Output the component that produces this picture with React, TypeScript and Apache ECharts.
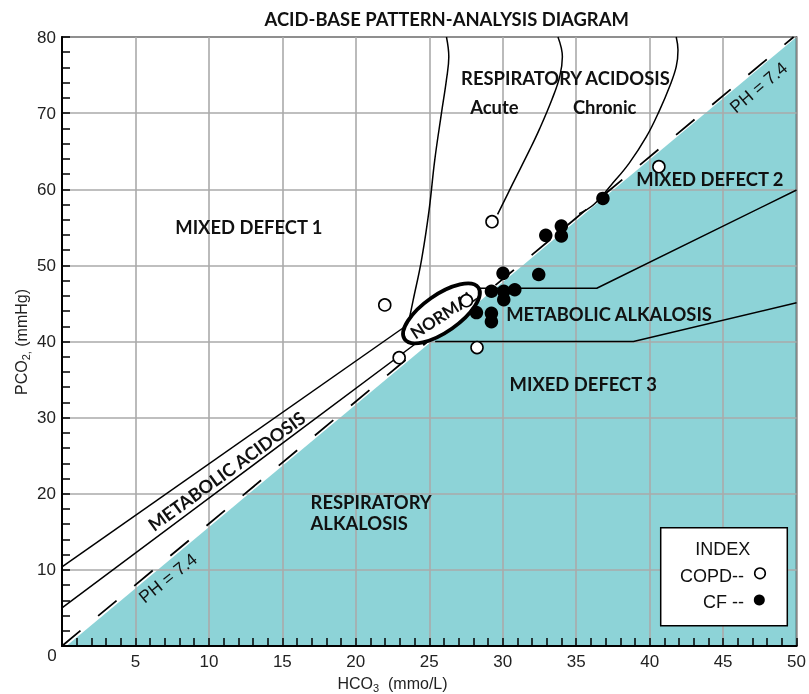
import React, { useEffect, useRef } from "react";
import * as echarts from "echarts";

// ---- axis ranges / ticks ----
const X_MIN = 0;
const X_MAX = 50;
const X_STEP = 5;
const Y_MIN = 0;
const Y_MAX = 80;
const Y_STEP = 10;

// ---- data points (HCO3, PCO2) ----
const copdPoints = [
  [29.27, 55.74],
  [40.63, 62.96],
  [21.97, 44.8],
  [22.95, 37.87],
  [28.25, 39.2],
  [27.53, 45.36],
];
const cfPoints = [
  [36.82, 58.8],
  [33.99, 55.17],
  [32.93, 53.95],
  [33.99, 53.86],
  [30.02, 48.96],
  [32.45, 48.8],
  [29.23, 46.6],
  [30.07, 46.6],
  [30.82, 46.8],
  [30.07, 45.5],
  [28.21, 43.8],
  [29.23, 43.7],
  [29.23, 42.6],
];

// ---- boundary lines ----
const phLine = [
  [0, 0],
  [49.8, 80],
];
const alkalosisEdge = [
  [0.3, 0],
  [50, 80],
];
const metAcidUpper = [
  [0, 10.4],
  [23.6, 42.3],
];
const metAcidLower = [
  [0, 5.0],
  [24.2, 39.9],
];
const metAlkUpper = [
  [28.0, 47.0],
  [36.4, 47.0],
  [50, 59.9],
];
const metAlkLower = [
  [25.4, 40.0],
  [38.9, 40.0],
  [50, 45.1],
];
const acuteLeft = [
  [26.17, 80],
  [26.33, 77.4],
  [26.17, 74.4],
  [25.83, 70.0],
  [25.37, 63.8],
  [24.99, 57.3],
  [24.47, 50.7],
  [23.9, 45.4],
  [23.6, 42.6],
];
const acuteRight = [
  [33.76, 80],
  [34.06, 77.4],
  [33.88, 74.8],
  [33.35, 71.8],
  [32.5, 67.9],
  [31.84, 65.2],
  [30.7, 60.8],
  [29.65, 56.7],
];
const chronic = [
  [41.81, 80],
  [41.93, 78.3],
  [41.81, 76.1],
  [41.36, 73.5],
  [40.68, 70.4],
  [39.78, 66.9],
  [38.6, 63.4],
  [37.4, 60.6],
  [36.2, 58.0],
  [35.2, 56.8],
];
const normalCenter = [25.83, 43.7];

// ---- annotation texts ----
const labelTexts = [
  "RESPIRATORY ACIDOSIS",
  "Acute",
  "Chronic",
  "MIXED DEFECT 2",
  "MIXED DEFECT 1",
  "METABOLIC ALKALOSIS",
  "MIXED DEFECT 3",
  "RESPIRATORY",
  "ALKALOSIS",
  "METABOLIC ACIDOSIS",
  "PH = 7.4",
  "PH = 7.4",
  "NORMAL",
];
const labelAnchors = [
  [34.27, 74.57],
  [29.43, 70.85],
  [36.94, 70.85],
  [44.1, 61.3],
  [12.72, 55.04],
  [37.24, 43.6],
  [35.48, 34.4],
  [16.92, 18.96],
  [16.92, 16.12],
  [11.2, 23.0],
  [7.21, 8.93],
  [47.41, 73.37],
  [25.94, 43.61],
];
const labelStyles = [
  { size: 18.4, bold: true, rot: 0, align: "center" },
  { size: 18.4, bold: true, rot: 0, align: "center" },
  { size: 18.4, bold: true, rot: 0, align: "center" },
  { size: 18.4, bold: true, rot: 0, align: "center" },
  { size: 18.4, bold: true, rot: 0, align: "center" },
  { size: 18.4, bold: true, rot: 0, align: "center" },
  { size: 18.4, bold: true, rot: 0, align: "center" },
  { size: 18.4, bold: true, rot: 0, align: "left" },
  { size: 18.4, bold: true, rot: 0, align: "left" },
  { size: 18, bold: true, rot: 36, align: "center" },
  { size: 17.5, bold: false, rot: 38.5, align: "center", sans: true },
  { size: 17.5, bold: false, rot: 40, align: "center", sans: true },
  { size: 17, bold: true, rot: 33, align: "center" },
];

const TEAL = "#8dd3d7";
const GRID_GRAY = "#aaaaaa";
const BOLD_FONT = "Lato";
const SANS_FONT = "Liberation Sans";

export default function App() {
  const ref = useRef<HTMLDivElement>(null);

  useEffect(() => {
    const chart = echarts.init(ref.current!, null, { renderer: "svg" });

    const lineSeries = (data: number[][], smooth: number | boolean = false, extra: any = {}) => ({
      type: "line",
      data,
      showSymbol: false,
      symbol: "none",
      silent: true,
      smooth,
      z: 3,
      lineStyle: { color: "#000", width: 1.5, ...extra },
    });

    const richAxisName = {
      n: { fontFamily: SANS_FONT, fontSize: 16, lineHeight: 20, verticalAlign: "middle", fill: "#222" },
      s: { fontFamily: SANS_FONT, fontSize: 11, lineHeight: 10, verticalAlign: "bottom", fill: "#222" },
    };

    const option: any = {
      animation: false,
      grid: {
        left: 62,
        right: 12,
        top: 37,
        bottom: 48,
        show: true,
        borderColor: "#000",
        borderWidth: 1.5,
        containLabel: false,
      },
      xAxis: {
        type: "value",
        min: X_MIN,
        max: X_MAX,
        interval: X_STEP,
        axisLine: { show: true, lineStyle: { color: "#000", width: 2 } },
        axisTick: { show: true, inside: true, length: 8, lineStyle: { color: "#000", width: 1.5 } },
        minorTick: { show: true, splitNumber: 5, length: 8, lineStyle: { color: "#000", width: 1.5 } },
        splitLine: { show: true, lineStyle: { color: GRID_GRAY, width: 1.6 } },
        axisLabel: {
          margin: 7,
          color: "#222",
          fontFamily: SANS_FONT,
          fontSize: 17,
          formatter: (v: number) => (v === 0 ? "" : String(v)),
        },
      },
      yAxis: {
        type: "value",
        min: Y_MIN,
        max: Y_MAX,
        interval: Y_STEP,
        axisLine: { show: true, lineStyle: { color: "#000", width: 2 } },
        axisTick: { show: true, inside: true, length: 8, lineStyle: { color: "#000", width: 1.5 } },
        minorTick: { show: true, splitNumber: 5, length: 8, lineStyle: { color: "#000", width: 1.5 } },
        splitLine: { show: true, lineStyle: { color: GRID_GRAY, width: 1.6 } },
        axisLabel: {
          margin: 6,
          color: "#222",
          fontFamily: SANS_FONT,
          fontSize: 17,
          formatter: (v: number) => (v === 0 ? "" : String(v)),
        },
      },
      series: [
        {
          type: "line",
          data: alkalosisEdge,
          showSymbol: false,
          symbol: "none",
          silent: true,
          z: -1,
          lineStyle: { width: 0 },
          areaStyle: { color: TEAL, opacity: 1 },
        },
        lineSeries(phLine, false, { width: 1.8, type: [24, 23] }),
        lineSeries(metAcidUpper),
        lineSeries(metAcidLower),
        lineSeries(metAlkUpper),
        lineSeries(metAlkLower),
        lineSeries(acuteLeft, 0.4),
        lineSeries(acuteRight, 0.4),
        lineSeries(chronic, 0.4),
        {
          type: "custom",
          silent: true,
          z: 4,
          data: [normalCenter],
          renderItem: (_p: any, api: any) => {
            const c = api.coord(normalCenter);
            return {
              type: "ellipse",
              x: c[0],
              y: c[1],
              rotation: (35 * Math.PI) / 180,
              shape: { cx: 0, cy: 0, rx: 45, ry: 18.5 },
              style: { fill: "#fff", stroke: "#000", lineWidth: 3.8 },
            };
          },
        },
        {
          type: "custom",
          silent: true,
          z: 5,
          data: labelAnchors,
          renderItem: (params: any, api: any) => {
            const i = params.dataIndex;
            const s: any = labelStyles[i];
            const c = api.coord(labelAnchors[i]);
            return {
              type: "text",
              x: c[0],
              y: c[1],
              rotation: (s.rot * Math.PI) / 180,
              style: {
                text: labelTexts[i],
                fill: "#111",
                fontSize: s.size,
                fontWeight: s.bold ? "bold" : "normal",
                fontFamily: s.sans ? SANS_FONT : BOLD_FONT,
                align: s.align,
                verticalAlign: "middle",
              },
            };
          },
        },
        {
          type: "scatter",
          name: "CF",
          data: cfPoints,
          symbol: "circle",
          symbolSize: 13.5,
          silent: true,
          z: 7,
          itemStyle: { color: "#000", opacity: 1 },
        },
        {
          type: "scatter",
          name: "COPD",
          data: copdPoints,
          symbol: "circle",
          symbolSize: 12,
          silent: true,
          z: 7,
          itemStyle: { color: "#fff", borderColor: "#000", borderWidth: 1.6, opacity: 1 },
        },
      ],
      graphic: [
        {
          type: "text",
          x: 446.7,
          y: 19,
          style: {
            text: "ACID-BASE PATTERN-ANALYSIS DIAGRAM",
            fill: "#111",
            fontFamily: BOLD_FONT,
            fontWeight: "bold",
            fontSize: 18.4,
            align: "center",
            verticalAlign: "middle",
          },
        },
        {
          type: "text",
          x: 52,
          y: 655,
          style: {
            text: "0",
            fill: "#222",
            fontFamily: SANS_FONT,
            fontSize: 17,
            align: "center",
            verticalAlign: "middle",
          },
        },
        {
          type: "text",
          x: 392.5,
          y: 683,
          style: {
            text: "{n|HCO}{s|3}{n|  (mmo/L)}",
            align: "center",
            verticalAlign: "middle",
            rich: richAxisName,
          },
        },
        {
          type: "text",
          x: 21,
          y: 342,
          rotation: Math.PI / 2,
          style: {
            text: "{n|PCO}{s|2,}{n| (mmHg)}",
            align: "center",
            verticalAlign: "middle",
            rich: richAxisName,
          },
        },
        {
          type: "rect",
          shape: { x: 660.7, y: 527.7, width: 126.6, height: 98 },
          style: { fill: "#fff", stroke: "#000", lineWidth: 1.5 },
          z: 10,
        },
        {
          type: "text",
          x: 722.7,
          y: 549.3,
          z: 11,
          style: { text: "INDEX", fill: "#111", fontFamily: SANS_FONT, fontSize: 18, align: "center", verticalAlign: "middle" },
        },
        {
          type: "text",
          x: 744,
          y: 576,
          z: 11,
          style: { text: "COPD--", fill: "#111", fontFamily: SANS_FONT, fontSize: 18, align: "right", verticalAlign: "middle" },
        },
        {
          type: "text",
          x: 744,
          y: 601.7,
          z: 11,
          style: { text: "CF --", fill: "#111", fontFamily: SANS_FONT, fontSize: 18, align: "right", verticalAlign: "middle" },
        },
        {
          type: "circle",
          z: 11,
          shape: { cx: 760, cy: 573.3, r: 5.3 },
          style: { fill: "#fff", stroke: "#000", lineWidth: 1.6 },
        },
        {
          type: "circle",
          z: 11,
          shape: { cx: 759.3, cy: 600, r: 5.5 },
          style: { fill: "#000" },
        },
      ],
    };

    chart.setOption(option);
    return () => chart.dispose();
  }, []);

  return <div ref={ref} style={{ position: "fixed", left: 0, top: 0, width: 809, height: 694 }} />;
}
